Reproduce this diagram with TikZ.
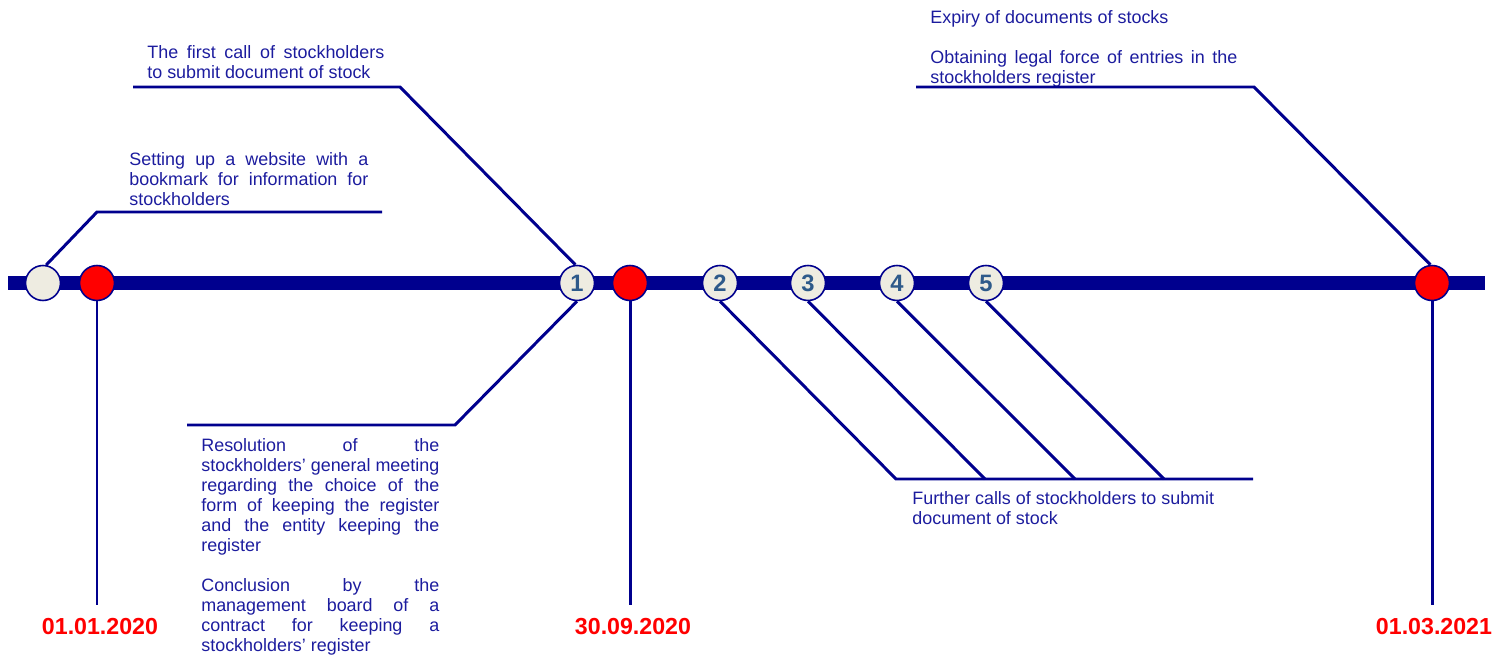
\documentclass[tikz,border=0pt]{standalone}
\usepackage{fontspec}
\setmainfont{Liberation Sans}
\usetikzlibrary{positioning}
\definecolor{tlNavy}{HTML}{00008E}
\definecolor{tlText}{HTML}{1C1C9E}
\definecolor{tlRed}{HTML}{FF0000}
\definecolor{tlGrey}{HTML}{EEECE1}
\definecolor{tlNum}{HTML}{2E5A8A}
\setlength{\parindent}{0pt}
\hyphenpenalty=10000
\tikzset{
    axisbar/.style={line width=0.3cm,tlNavy},
    leader/.style={line width=1.7pt,tlNavy},
    milestone/.style={circle,draw=tlNavy,line width=0.9pt,fill=tlRed,minimum size=0.7cm,inner sep=0pt},
    startpt/.style={milestone,fill=tlGrey},
    callpt/.style={milestone,fill=tlGrey,text=tlNum,font=\fontsize{13.5}{15}\selectfont\bfseries},
    note/.style={anchor=north west,inner sep=0pt,text=tlText,align=justify,font=\fontsize{10.2}{11.4}\selectfont},
    datelbl/.style={anchor=north,inner xsep=0pt,inner ysep=0.26cm,text=tlRed,font=\fontsize{13.2}{15}\selectfont\bfseries}
}
\begin{document}
\begin{tikzpicture}[x=0.02cm,y=-0.02cm]
    \useasboundingbox (0,0) rectangle (1507,658);

    % Time axis
    \coordinate (axisL) at (8,283);
    \coordinate (axisR) at (1485,283);
    \draw[axisbar] (axisL) -- (axisR);

    % Points on the axis
    \node[startpt] (g0) at (43,283) {};
    \node[milestone] (r1) at (97,283) {};
    \node[callpt] (n1) at (577,283) {1};
    \node[milestone] (r2) at (630,283) {};
    \node[callpt] (n2) at (720,283) {2};
    \node[callpt] (n3) at (808,283) {3};
    \node[callpt] (n4) at (897,283) {4};
    \node[callpt] (n5) at (986,283) {5};
    \node[milestone] (r3) at (1432,283) {};

    % Dates
    \node[datelbl] (d1) at (100,605) {01.01.2020};
    \node[datelbl] (d2) at (633,605) {30.09.2020};
    \node[datelbl] (d3) at (1434,605) {01.03.2021};
    \draw[leader] (r1.south) -- (r1.south |- d1.north);
    \draw[leader] (r2.south) -- (r2.south |- d2.north);
    \draw[leader] (r3.south) -- (r3.south |- d3.north);

    % Website
    \node[note,text width=4.78cm] (t0) at (129,152) {Setting up a website with a\linebreak bookmark for information for\linebreak stockholders};
    \coordinate (k0) at (97,212);
    \coordinate (k0e) at (382,212);
    \draw[leader] (g0.80) -- (k0) -- (k0e);

    % First call
    \node[note,text width=4.74cm] (t1) at (147,45) {The first call of stockholders\linebreak to submit document of stock};
    \coordinate (k1) at (400,87);
    \coordinate (k1e) at (133,87);
    \draw[leader] (n1.95) -- (k1) -- (k1e);

    % Resolution and contract
    \node[note,text width=4.76cm] (t2) at (201,438) {Resolution of the\linebreak stockholders’ general meeting\linebreak regarding the choice of the\linebreak form of keeping the register\linebreak and the entity keeping the\linebreak register\par\vspace{11.4pt}
        Conclusion by the\linebreak management board of a\linebreak contract for keeping a\linebreak stockholders’ register};
    \coordinate (k2) at (455,425);
    \coordinate (k2e) at (187,425);
    \draw[leader] (n1.south) -- (k2) -- (k2e);

    % Further calls
    \node[note,align=left] (t3) at (912,491) {Further calls of stockholders to submit\\document of stock};
    \coordinate (f2) at (896,479);
    \coordinate (f3) at (985,479);
    \coordinate (f4) at (1075,479);
    \coordinate (f5) at (1164,479);
    \coordinate (fe) at (1253,479);
    \draw[leader] (n2.south) -- (f2) -- (fe);
    \draw[leader] (n3.south) -- (f3);
    \draw[leader] (n4.south) -- (f4);
    \draw[leader] (n5.south) -- (f5);

    % Expiry
    \node[note,align=left] (t4) at (930,10) {Expiry of documents of stocks};
    \node[note,text width=6.14cm] (t5) at (930,50) {Obtaining legal force of entries in the\linebreak stockholders register};
    \coordinate (k3) at (1254,87);
    \coordinate (k3e) at (916,87);
    \draw[leader] (r3.95) -- (k3) -- (k3e);
\end{tikzpicture}
\end{document}
